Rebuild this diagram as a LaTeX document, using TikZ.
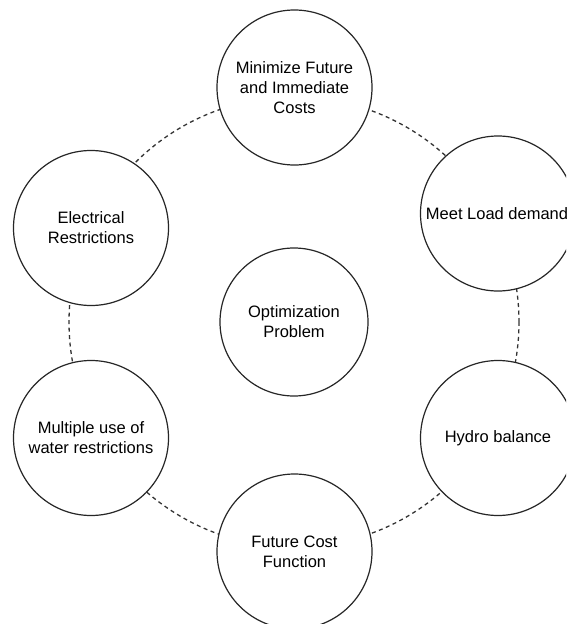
\documentclass[tikz,border=0pt]{standalone}
\usepackage{fontspec}
\setmainfont{Liberation Sans}
\begin{document}
\begin{tikzpicture}[x=1pt,y=-1pt,
  bubble/.style={circle,draw=black!85,line width=1.2pt,fill=white,minimum size=155pt,inner sep=0pt,align=center,font=\fontsize{16.5}{20}\selectfont},
  ring/.style={dash pattern=on 4pt off 3.5pt,line width=1.3pt,draw=black!80}]
\useasboundingbox (0,0) rectangle (566,624);
\clip (0,0) rectangle (566,624);
\node[bubble,minimum size=148pt] (opt) at (294,322) {Optimization\\Problem};
\draw[ring] (opt.center) circle (225pt);
\node[bubble] (top) at (294.5,87.5) {Minimize Future\\and Immediate\\Costs};
\node[bubble] (ru) at (498,213.5) {};
\node[font=\fontsize{16.5}{20}\selectfont,inner sep=0pt] (rut) at ([xshift=-1pt]ru.center) {Meet Load demand};
\node[bubble] (rl) at (498,438) {Hydro balance};
\node[bubble] (bot) at (294.5,551.5) {Future Cost\\Function};
\node[bubble] (ll) at (91,438) {Multiple use of\\water restrictions};
\node[bubble] (lu) at (91,228) {Electrical\\Restrictions};
\end{tikzpicture}
\end{document}
